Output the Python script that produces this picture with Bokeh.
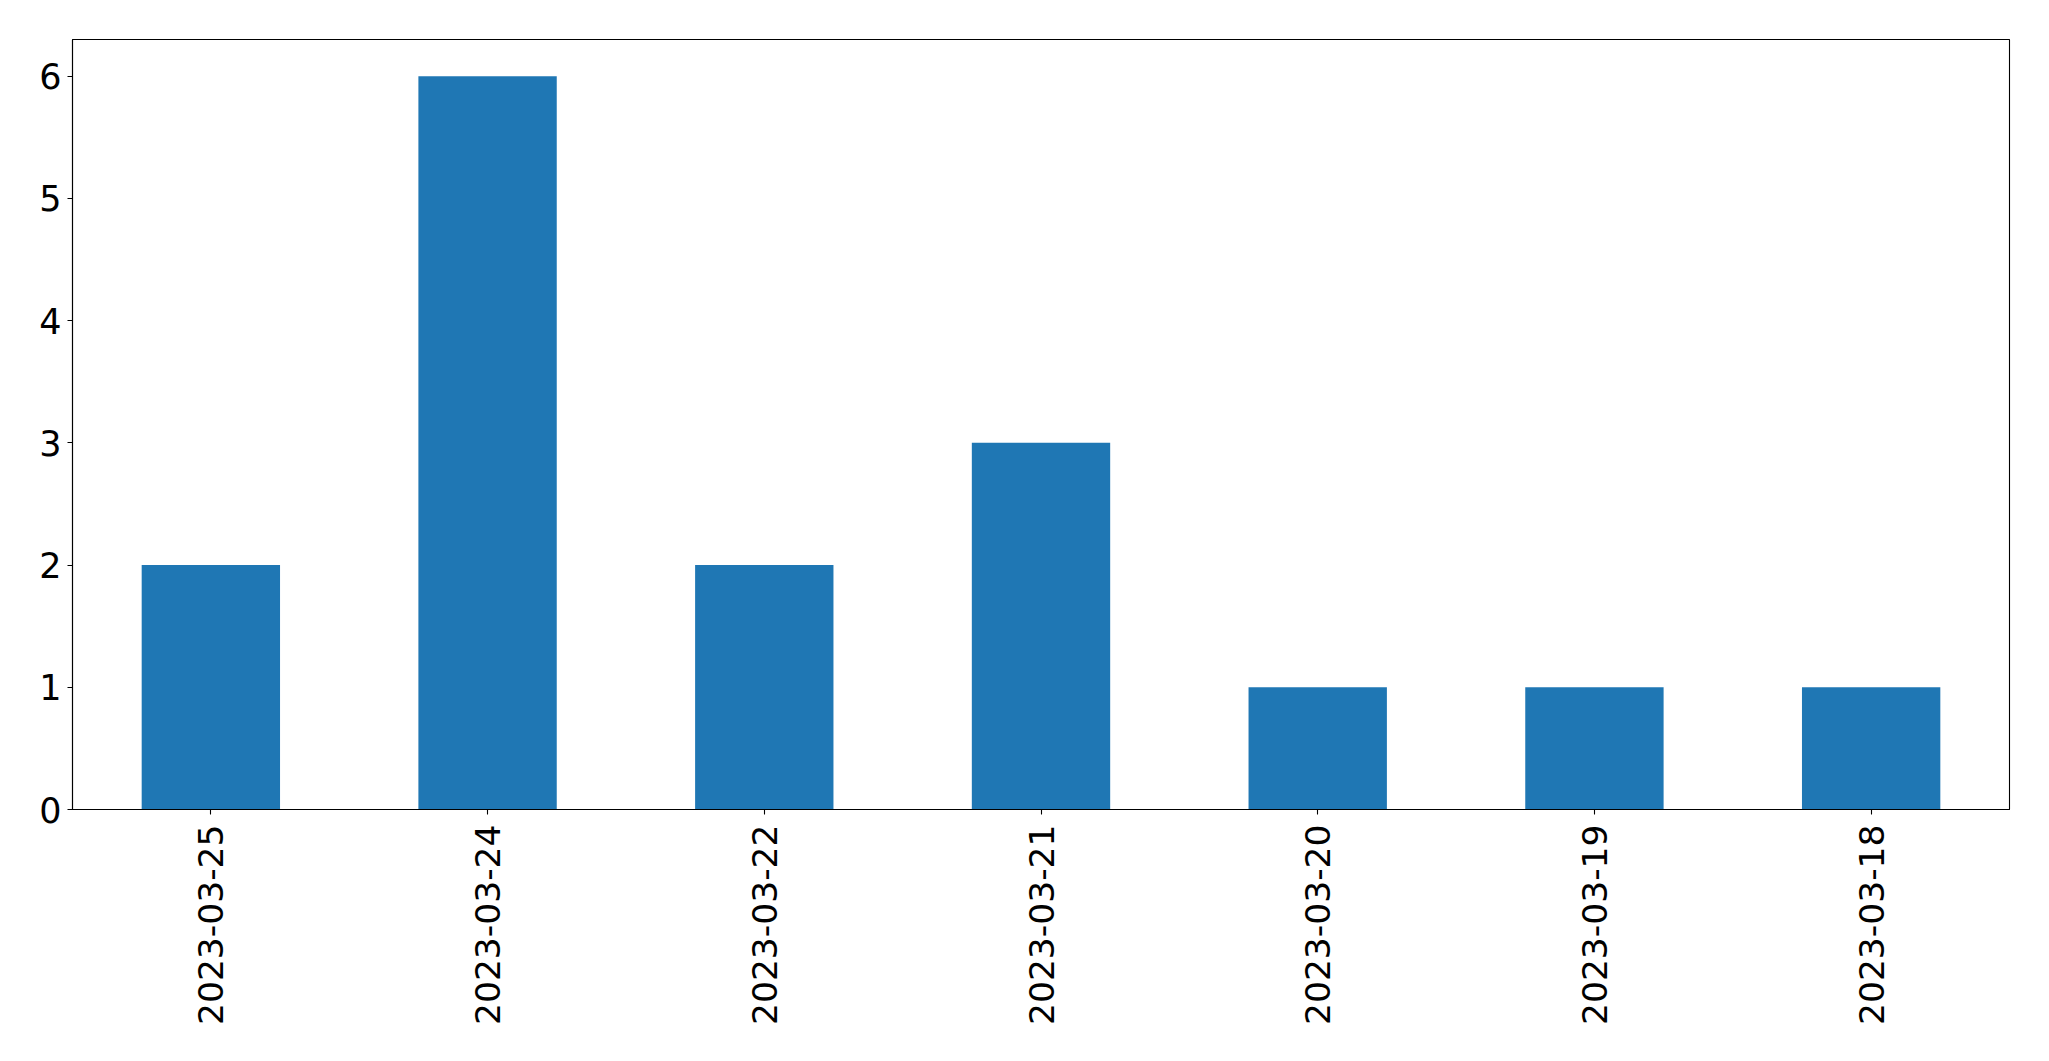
import math
from bokeh.plotting import figure
from bokeh.models import ColumnDataSource, FactorRange, Range1d, FixedTicker
from bokeh.embed import file_html
from bokeh.resources import INLINE

dates = ["2023-03-25", "2023-03-24", "2023-03-22", "2023-03-21",
         "2023-03-20", "2023-03-19", "2023-03-18"]
counts = [2, 6, 2, 3, 1, 1, 1]
y_ticks = [0, 1, 2, 3, 4, 5, 6]

source = ColumnDataSource(data=dict(dates=dates, counts=counts))

p = figure(width=2033, height=1045,
           x_range=FactorRange(factors=dates),
           y_range=Range1d(0, 6.3),
           output_backend="svg", toolbar_location=None,
           min_border_left=72, min_border_right=24,
           min_border_top=39, min_border_bottom=236)

p.vbar(x="dates", top="counts", width=0.5, source=source,
       fill_color="#1f77b4", line_color=None)

p.xgrid.visible = False
p.ygrid.visible = False
p.outline_line_color = "black"
p.outline_line_width = 1.1
p.background_fill_color = "white"
p.border_fill_color = "white"

for ax in (p.xaxis[0], p.yaxis[0]):
    ax.axis_line_color = "black"
    ax.axis_line_width = 1.1
    ax.major_tick_line_color = "black"
    ax.major_tick_line_width = 1.1
    ax.major_tick_in = 0
    ax.major_tick_out = 5
    ax.minor_tick_line_color = None
    ax.major_label_text_font = "DejaVu Sans"
    ax.major_label_text_color = "black"

p.xaxis[0].major_label_text_font_size = "34.5px"
p.yaxis[0].major_label_text_font_size = "35px"
p.yaxis[0].ticker = FixedTicker(ticks=y_ticks)
p.yaxis[0].major_label_standoff = 6
p.xaxis[0].major_label_orientation = math.pi / 2
p.xaxis[0].major_label_standoff = 10

open("out.html", "w").write(file_html(p, INLINE))
